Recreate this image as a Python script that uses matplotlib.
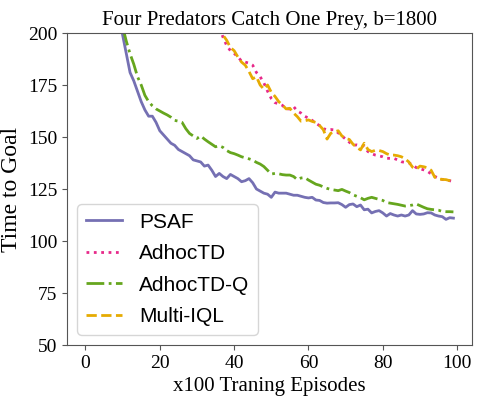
from matplotlib import pyplot as plt
import numpy as np

episodes = np.arange(100)

psaf = [420, 390, 360, 330, 305, 280, 260, 240, 225, 211,
        199, 190, 181, 177, 172, 167, 163, 160, 160, 157,
        153, 151, 149, 147, 146, 144, 143, 142, 141, 139,
        138.5, 138, 136, 136.5, 134, 131, 132.5, 131, 130, 132,
        131, 130, 128.5, 129, 130, 128, 125, 124, 123, 122.5,
        121, 123.5, 123, 123, 123, 122.5, 122, 122, 121.5, 121,
        120.7, 121, 119.7, 119.5, 118.5, 118.2, 118.3, 118.3, 118.4, 117.5,
        116.2, 117.5, 117.8, 116.5, 117.3, 115, 115.3, 113.5, 114.2, 114.6,
        113.5, 112, 113.2, 112.5, 112, 112.5, 112, 112.5, 114.6, 113,
        112.8, 113, 113.6, 113.5, 112.5, 112, 111.7, 110.4, 111.2, 111]

adhoctd = [330, 326, 322, 318, 314, 310, 306, 302, 298, 294,
           290, 286, 282, 278, 274, 270, 266, 262, 258, 254,
           250, 246, 242, 238, 235, 232, 229, 226, 223, 220,
           217, 214, 211, 209, 207, 205, 203, 198, 194, 191.5,
           190.2, 188.5, 186.5, 186, 185.5, 184.5, 181, 179, 176, 172,
           168.5, 166.5, 166, 165.2, 163.5, 163.5, 164.6, 162.5, 161.5, 160,
           159, 158, 156.5, 155.5, 154, 153.5, 153.6, 153.4, 152, 150.5,
           149, 147.5, 146, 146.2, 145.8, 145.4, 143, 142, 141.3, 140.9,
           140.5, 139.8, 139.7, 139.7, 139, 138.1, 137.8, 137.6, 136.5, 135.3,
           134.7, 134.2, 133.5, 132.3, 131, 130.3, 129.6, 129.3, 129, 128.5]

adhoctd_q = [430, 400, 370, 340, 315, 290, 268, 248, 230, 215,
             203, 196, 190, 185, 179, 175, 170, 167, 165, 163.5,
             162.5, 161.5, 160.6, 159.5, 158, 157.6, 157, 154, 151.7, 150.5,
             149.3, 150.5, 149, 147.7, 146.5, 145.3, 145.8, 145, 143.5, 142.5,
             142, 141.3, 140.5, 140, 139.5, 138.9, 137.8, 137, 135.8, 134,
             132.2, 132.5, 132.3, 131.9, 131.7, 131.7, 131, 129.5, 130.3, 130.5,
             129.3, 128.3, 127.3, 126.8, 126, 125.3, 124.8, 124.5, 124.2, 124.8,
             124, 123.3, 122.2, 121.5, 120.8, 119.8, 120.5, 121, 120.5, 120,
             119.5, 118.5, 118.2, 117.9, 117.6, 117.2, 116.8, 117, 117.3, 117.8,
             117, 116.2, 115.5, 115.2, 115, 114.8, 114.2, 114.1, 114.1, 114]

multi_iql = [332, 328, 324, 320, 316, 312, 308, 304, 300, 296,
             292, 288, 284, 280, 276, 272, 268, 264, 260, 256,
             252, 248, 244, 240, 237, 234, 231, 228, 225, 222,
             219, 216, 213, 210, 207, 204.5, 202, 199, 196.5, 193,
             191.5, 188.5, 186, 184.5, 181.5, 178, 179, 175, 173, 175,
             171.5, 169.5, 167, 165.4, 163.5, 163.8, 161.5, 159.8, 157.6, 157.8,
             158.2, 157.5, 157, 155.5, 153.5, 149, 151.8, 152.5, 153, 150.5,
             149.3, 148.8, 146.5, 145, 143.8, 147, 144, 143, 143.6, 143.5,
             143, 142, 141.3, 141.3, 141, 140.5, 139.5, 138, 135.5, 134.5,
             136, 135.7, 135.2, 134, 130.6, 129.8, 129.6, 129.5, 129, 128]

plt.rcParams['font.family'] = 'Liberation Serif'
plt.rcParams['axes.edgecolor'] = '#555555'
plt.rcParams['xtick.color'] = '#555555'
plt.rcParams['ytick.color'] = '#555555'
plt.rcParams['xtick.labelcolor'] = 'black'
plt.rcParams['ytick.labelcolor'] = 'black'

fig = plt.figure(figsize=(4.79, 4.0), dpi=100)
ax = fig.add_axes([0.140, 0.1375, 0.845, 0.78])

ax.plot(episodes, psaf, color='#7570b3', linestyle='-', lw=2, label='PSAF')
ax.plot(episodes, adhoctd, color='#e7298a', linestyle=':', lw=2, label='AdhocTD')
ax.plot(episodes, adhoctd_q, color='#66a61e', linestyle='-.', lw=2, label='AdhocTD-Q')
ax.plot(episodes, multi_iql, color='#e6ab02', linestyle='--', lw=2, label='Multi-IQL')

ax.set_ylim(50, 200)
ax.set_yticks([50, 75, 100, 125, 150, 175, 200])
ax.set_xticks([0, 20, 40, 60, 80, 100])
ax.tick_params(labelsize=14)
ax.set_title('Four Predators Catch One Prey, b=1800', fontsize=15)
ax.set_xlabel('x100 Traning Episodes', fontsize=15)
ax.set_ylabel('Time to Goal', fontsize=17)

ax.legend(loc='lower left', prop={'family': 'Liberation Sans', 'size': 15},
          handlelength=1.75, labelspacing=0.6)

plt.savefig('out.png', dpi=100)
